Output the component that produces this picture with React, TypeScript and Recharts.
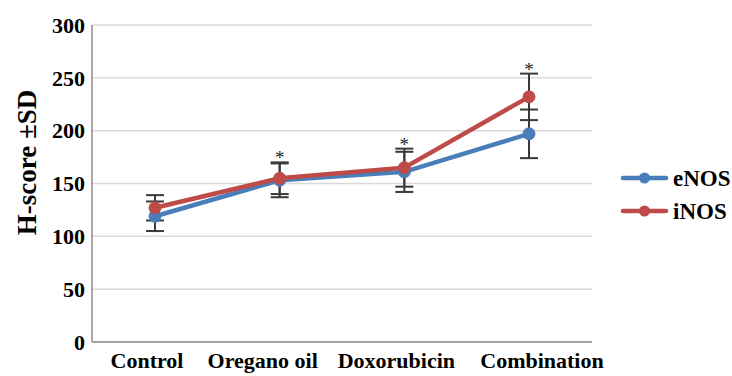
import React from 'react';
import { LineChart, Line, XAxis, YAxis, CartesianGrid, ErrorBar, Customized, LabelList } from 'recharts';

const categories = ['Control', 'Oregano oil', 'Doxorubicin', 'Combination'];
const eNOS = [119, 153, 161, 197];
const eNOSsd = [14, 16, 19, 23];
const iNOS = [127, 155, 165, 232];
const iNOSsd = [12, 15, 18, 22];
const significant = [false, true, true, true];
const yTicks = [0, 50, 100, 150, 200, 250, 300];
const seriesNames = ['eNOS', 'iNOS'];

// horizontal nudge of the category labels, as laid out in the reference
const labelNudge = [-8, -17, -8, 13];

const BLUE = '#4a7ebb';
const RED = '#be4b48';
const COLORS = [BLUE, RED];
const FONT = 'Liberation Serif';

const data = categories.map((c, i) => ({
  name: c,
  eNOS: eNOS[i],
  eErr: eNOSsd[i],
  iNOS: iNOS[i],
  iErr: iNOSsd[i],
  sig: significant[i] ? Math.max(eNOS[i] + eNOSsd[i], iNOS[i] + iNOSsd[i]) : null,
}));

const LegendBlock = () => (
  <g className="legend-block">
    {seriesNames.map((name, i) => {
      const cy = 178 + i * 33;
      return (
        <g key={name}>
          <line x1={623} y1={cy} x2={666} y2={cy} stroke={COLORS[i]} strokeWidth={4.5} strokeLinecap="round" />
          <circle cx={644.5} cy={cy} r={5.5} fill={COLORS[i]} />
          <text x={673} y={cy + 8} fontFamily={FONT} fontWeight={700} fontSize={23} fill="#000">
            {name}
          </text>
        </g>
      );
    })}
  </g>
);

const Star = (props: any) => {
  const { x, y, value } = props;
  if (value == null) return null;
  return (
    <text x={x} y={y + 2} textAnchor="middle" fontFamily={FONT} fontSize={19} fill="#222">
      *
    </text>
  );
};

const XTick = (props: any) => {
  const { x, y, payload, index } = props;
  return (
    <text
      x={x + (labelNudge[index] || 0)}
      y={y}
      dy="0.71em"
      textAnchor="middle"
      fontFamily={FONT}
      fontWeight={700}
      fontSize={22}
      fill="#000"
    >
      {payload.value}
    </text>
  );
};

const YLabel = (props: any) => {
  const vb = props.viewBox || { x: 0, y: 25, width: 92, height: 317 };
  const x = vb.x + 36;
  const y = vb.y + vb.height / 2 - 21;
  return (
    <text
      x={x}
      y={y}
      transform={`rotate(-90 ${x} ${y})`}
      textAnchor="middle"
      fontFamily={FONT}
      fontWeight={700}
      fontSize={27}
      fill="#000"
    >
      H-score ±SD
    </text>
  );
};

export default function App() {
  return (
    <div style={{ position: 'absolute', left: 0, top: 0, background: '#fff', fontFamily: FONT }}>
      <LineChart width={732} height={376} data={data} margin={{ top: 25, right: 140, bottom: 0, left: 0 }}>
        <CartesianGrid vertical={false} stroke="#d9d9d9" strokeWidth={1.5} />
        <XAxis
          dataKey="name"
          height={34}
          padding={{ left: 63, right: 63 }}
          axisLine={{ stroke: '#8c8c8c', strokeWidth: 1.5 }}
          tickLine={false}
          tickMargin={4}
          interval={0}
          tick={<XTick />}
        />
        <YAxis
          width={92}
          domain={[0, 300]}
          ticks={yTicks}
          axisLine={{ stroke: '#8c8c8c', strokeWidth: 1.5 }}
          tickLine={false}
          tickMargin={1}
          tick={{ fontFamily: FONT, fontWeight: 700, fontSize: 22, fill: '#000' }}
          label={<YLabel />}
        />
        <Line
          dataKey="eNOS"
          name={seriesNames[0]}
          stroke={BLUE}
          strokeWidth={4.5}
          dot={{ r: 6, fill: BLUE, stroke: BLUE, strokeWidth: 1 }}
          activeDot={false}
          isAnimationActive={false}
        >
          <ErrorBar dataKey="eErr" direction="y" width={9} stroke="#3a3a3a" strokeWidth={2} />
        </Line>
        <Line
          dataKey="iNOS"
          name={seriesNames[1]}
          stroke={RED}
          strokeWidth={4.5}
          dot={{ r: 6, fill: RED, stroke: RED, strokeWidth: 1 }}
          activeDot={false}
          isAnimationActive={false}
        >
          <ErrorBar dataKey="iErr" direction="y" width={9} stroke="#3a3a3a" strokeWidth={2} />
        </Line>
        <Line
          dataKey="sig"
          stroke="none"
          dot={false}
          activeDot={false}
          legendType="none"
          isAnimationActive={false}
        >
          <LabelList dataKey="sig" content={<Star />} />
        </Line>
        <Customized component={LegendBlock} />
      </LineChart>
    </div>
  );
}
